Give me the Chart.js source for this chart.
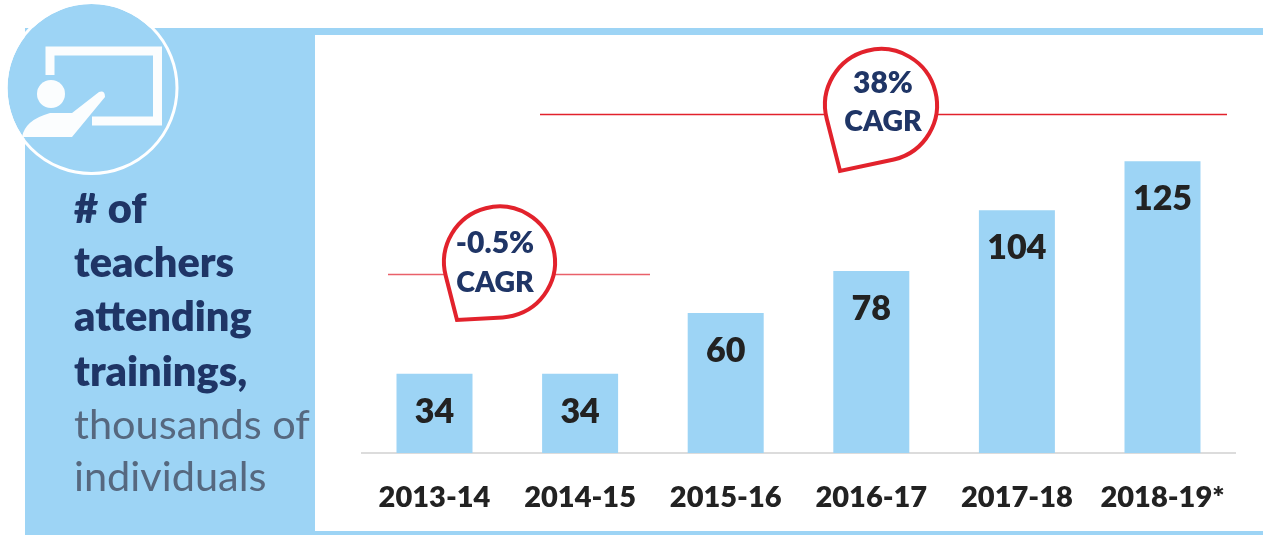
<!DOCTYPE html>
<html><head><meta charset="utf-8">
<style>html,body{margin:0;padding:0;background:#fff;overflow:hidden}canvas{display:block}</style>
<script src="https://cdn.jsdelivr.net/npm/chart.js@4"></script>
</head><body>
<canvas id="c" width="1263" height="535"></canvas>
<script>
const categories = ["2013-14","2014-15","2015-16","2016-17","2017-18","2018-19*"];
const teachers = [34,34,60,78,104,125];
const titleBold = ["# of","teachers","attending","trainings,"];
const titleLight = ["thousands of","individuals"];
const BLUE="#9dd4f5", NAVY="#1f3566", RED="#e2222c", INK="#222222";
const FONT='Lato, "Open Sans", sans-serif';

function teardrop(ctx,cx,cy,r,tx,ty){
  const a=Math.atan2(ty-cy,tx-cx), d=Math.hypot(tx-cx,ty-cy), b=Math.acos(r/d);
  ctx.beginPath();
  ctx.arc(cx,cy,r,a+b,a-b+Math.PI*2);
  ctx.lineTo(tx,ty);
  ctx.closePath();
  ctx.fillStyle="#fff";ctx.fill();
  ctx.lineWidth=4;ctx.strokeStyle=RED;ctx.lineJoin="miter";ctx.stroke();
}
function hline(ctx,x1,x2,y,color){
  ctx.strokeStyle=color;ctx.lineWidth=1.5;ctx.beginPath();ctx.moveTo(x1,y);ctx.lineTo(x2,y);ctx.stroke();
}
const backdrop={id:"backdrop",beforeDraw(chart){
  const ctx=chart.ctx;ctx.save();
  ctx.fillStyle="#fff";ctx.fillRect(0,0,1263,535);
  ctx.fillStyle=BLUE;ctx.fillRect(25,28,1238,507);
  ctx.fillStyle="#fff";ctx.fillRect(315,35,948,496);
  // icon
  ctx.beginPath();ctx.arc(91.5,88,84,0,Math.PI*2);ctx.fillStyle=BLUE;ctx.fill();
  ctx.beginPath();ctx.arc(91.5,88,85.5,0,Math.PI*2);ctx.lineWidth=3;ctx.strokeStyle="#fff";ctx.stroke();
  ctx.strokeStyle="#fbfdfe";ctx.lineWidth=9;ctx.lineJoin="miter";
  ctx.beginPath();ctx.moveTo(50,75);ctx.lineTo(50,51);ctx.lineTo(157.5,51);ctx.lineTo(157.5,121);ctx.lineTo(92,121);ctx.stroke();
  ctx.fillStyle="#fbfdfe";
  ctx.beginPath();ctx.arc(51,94,14,0,Math.PI*2);ctx.fill();
  ctx.beginPath();ctx.moveTo(22,137);ctx.quadraticCurveTo(25,120,50,113);ctx.lineTo(72,113);
  ctx.lineTo(99,92);ctx.quadraticCurveTo(105,90,105,97);ctx.lineTo(72,137);ctx.closePath();ctx.fill();
  // side title
  ctx.textAlign="left";ctx.textBaseline="alphabetic";
  ctx.fillStyle=NAVY;ctx.font="800 41.5px "+FONT;
  [223,277,331,386].forEach((y,i)=>ctx.fillText(titleBold[i],74,y));
  ctx.fillStyle="#56687f";ctx.font="400 41.5px "+FONT;
  [439,491].forEach((y,i)=>ctx.fillText(titleLight[i],74,y));
  ctx.restore();
}};
const overlay={id:"overlay",afterDraw(chart){
  const ctx=chart.ctx;ctx.save();
  const meta=chart.getDatasetMeta(0);
  ctx.textAlign="center";ctx.textBaseline="middle";
  ctx.fillStyle=INK;ctx.font="800 34px "+FONT;
  meta.data.forEach((bar,i)=>ctx.fillText(String(teachers[i]),bar.x,bar.y+38));
  hline(ctx,388,650,274.5,"#e9606a");
  hline(ctx,540,1227,114.5,RED);
  teardrop(ctx,499.5,262,55.5,457,320);
  teardrop(ctx,881,105,56,840,171);
  ctx.fillStyle=NAVY;ctx.font="800 30px "+FONT;
  ctx.fillText("-0.5%",495,243);ctx.fillText("38%",883,83);
  ctx.font="800 28.5px "+FONT;
  ctx.fillText("CAGR",495,283);ctx.fillText("CAGR",883,122);
  ctx.restore();
}};
new Chart(document.getElementById("c"),{
  type:"bar",
  data:{labels:categories,datasets:[{data:teachers,backgroundColor:BLUE,borderWidth:0,barPercentage:0.522,categoryPercentage:1}]},
  options:{
    responsive:false,animation:false,
    layout:{padding:{left:361.7,right:27.7,top:33,bottom:0}},
    plugins:{legend:{display:false},tooltip:{enabled:false}},
    scales:{
      x:{grid:{display:false,drawTicks:false},border:{color:"#dcdcdc",width:2},
         ticks:{color:INK,font:{family:FONT,size:29,weight:"800"},padding:27,maxRotation:0,autoSkip:false},
         afterFit(s){s.height=82;}},
      y:{display:false,min:0,max:180}
    }
  },
  plugins:[backdrop,overlay]
});
</script>
</body></html>
